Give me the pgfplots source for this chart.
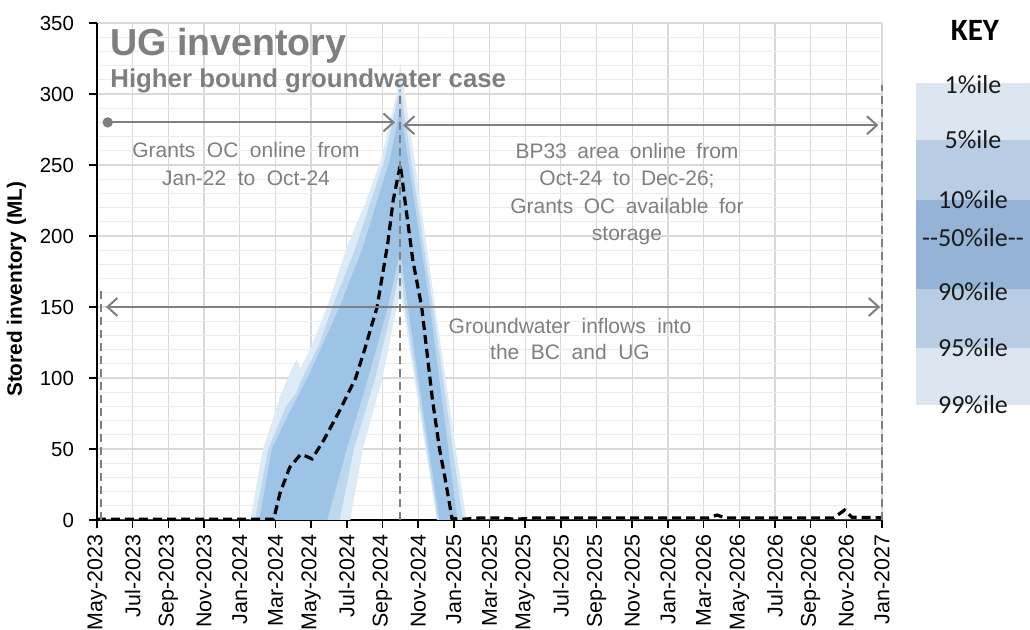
\documentclass[border=0pt]{standalone}
\usepackage{fontspec}
\setmainfont{Liberation Sans}
\newfontfamily\keyfont{Carlito}
\usepackage{pgfplots}
\pgfplotsset{compat=1.18}
\usepgfplotslibrary{fillbetween}
\usetikzlibrary{arrows.meta}

\definecolor{bandL}{RGB}{221,235,247}
\definecolor{bandM}{RGB}{189,215,238}
\definecolor{bandD}{RGB}{157,195,230}
\definecolor{keyL}{RGB}{220,230,241}
\definecolor{keyM}{RGB}{184,204,228}
\definecolor{keyD}{RGB}{149,179,215}
\definecolor{txtgray}{RGB}{127,127,127}
\definecolor{gridmaj}{RGB}{217,217,217}
\definecolor{gridmin}{RGB}{236,236,236}
\newcommand\widesp[1]{\spaceskip=#1em\relax}

\begin{document}
\begin{tikzpicture}
\begin{axis}[
  at={(0,0)}, anchor=south west,
  scale only axis, width=392.5pt, height=248.5pt,
  xmin=0, xmax=44, ymin=0, ymax=350,
  clip=false,
  axis x line*=bottom, axis y line*=left,
  xtick={0,2,...,44},
  xticklabels={May-2023,Jul-2023,Sep-2023,Nov-2023,Jan-2024,Mar-2024,May-2024,Jul-2024,Sep-2024,Nov-2024,Jan-2025,Mar-2025,May-2025,Jul-2025,Sep-2025,Nov-2025,Jan-2026,Mar-2026,May-2026,Jul-2026,Sep-2026,Nov-2026,Jan-2027},
  xticklabel style={rotate=90, anchor=east, font=\fontsize{10.7}{12}\selectfont},
  ytick={0,50,...,350}, minor ytick={10,20,...,340},
  yticklabel style={font=\fontsize{10.2}{12}\selectfont, xshift=-4pt},
  tick align=outside, major tick length=4pt, minor tick length=0pt,
  xmajorgrids, ymajorgrids, yminorgrids,
  major grid style={color=gridmaj, line width=0.6pt},
  minor grid style={color=gridmin, line width=0.6pt},
  axis line style={black, line width=0.75pt},
  tick style={black, line width=0.75pt},
  ylabel={Stored inventory (ML)},
  ylabel style={font=\fontsize{10.4}{12}\bfseries\selectfont, at={(ticklabel cs:0.464)}},
  /pgf/number format/assume math mode=true,
]
% percentile envelopes (x = months after May-2023)
\addplot[name path=p99, draw=none] coordinates {
 (0,0) (8.6,0) (9.3,50) (10.3,88) (10.9,106) (11.2,113) (11.4,107) (12.0,122)
 (12.9,150) (14.0,192) (15.0,222) (15.9,253) (16.8,300) (17.0,322)
 (18.0,236) (19.0,146) (20.0,60) (20.7,0) (44,0)};
\addplot[name path=p95, draw=none] coordinates {
 (0,0) (8.85,0) (9.6,50) (10.6,80) (11.2,90) (11.5,100) (12.4,122) (13.2,150)
 (14.5,192) (16.1,253) (16.9,300) (17.0,305)
 (18.0,220) (18.83,150) (20.5,0) (44,0)};
\addplot[name path=p90, draw=none] coordinates {
 (0,0) (9.1,0) (9.8,50) (10.8,76) (11.8,100) (13.6,150) (14.9,192)
 (16.4,253) (17.0,290) (18.67,150) (20.2,0) (44,0)};
\addplot[name path=p10, draw=none] coordinates {
 (0,0) (12.9,0) (14.0,50) (15.2,100) (16.3,150) (17.0,190)
 (17.43,150) (18.3,75) (19.2,0) (44,0)};
\addplot[name path=p5, draw=none] coordinates {
 (0,0) (13.6,0) (14.4,50) (15.6,100) (16.55,150) (17.0,178)
 (17.27,150) (19.1,0) (44,0)};
\addplot[name path=p1, draw=none] coordinates {
 (0,0) (14.2,0) (14.9,50) (16.0,100) (16.8,150) (17.0,160) (17.15,150) (19.05,0) (44,0)};

\addplot[fill=bandL, draw=none] fill between[of=p99 and p1];
\addplot[fill=bandM, draw=none] fill between[of=p95 and p5];
\addplot[fill=bandD, draw=none] fill between[of=p90 and p10];

% median
\addplot[black, line width=1.6pt, dash pattern=on 4.5pt off 2.5pt] coordinates {
 (0,0.5) (9.9,0.5) (10.26,19) (10.8,37) (11.4,46) (11.7,45) (12.05,43)
 (12.7,56) (13.6,77) (14.5,100) (15.0,120) (15.7,150) (16.3,195) (16.6,225)
 (17.0,250) (17.7,183) (18.2,150) (18.8,85) (19.2,50) (19.5,30) (19.9,1)
 (20.5,0.5) (21.5,1.5) (22.5,1.5) (23.5,0.5) (24.5,1.5) (34.3,1.5) (34.75,3.5)
 (35.2,1.5) (41.3,1.5) (41.9,7) (42.3,2) (44,1.5)};

% period markers
\draw[txtgray, line width=1pt, dash pattern=on 4pt off 2.5pt] (axis cs:0.22,0) -- (axis cs:0.22,163);
\draw[txtgray, line width=1pt, dash pattern=on 4pt off 2.5pt] (axis cs:17,0) -- (axis cs:17,303);
\draw[txtgray, line width=1pt, dash pattern=on 4pt off 2.5pt] (axis cs:44,0) -- (axis cs:44,306);

\fill[txtgray] (axis cs:0.6,280) circle (2.6pt);
\draw[txtgray, line width=1pt, -{Straight Barb[length=5pt,width=9pt]}] (axis cs:0.6,280) -- (axis cs:16.7,280);
\draw[txtgray, line width=1pt, {Straight Barb[length=5pt,width=9pt]}-{Straight Barb[length=5pt,width=9pt]}] (axis cs:17.15,278) -- (axis cs:43.8,278);
\draw[txtgray, line width=1pt, {Straight Barb[length=5pt,width=9pt]}-{Straight Barb[length=5pt,width=9pt]}] (axis cs:0.5,150) -- (axis cs:43.9,150);
\end{axis}

\begin{scope}[x=0.5pt, y=-0.5pt, shift={(-97,-520)}]
\node[anchor=base west, inner sep=0pt, text=txtgray, font=\fontsize{18.8}{22}\bfseries\selectfont] at (110,56) {UG inventory};
\node[anchor=base west, inner sep=0pt, text=txtgray, font=\fontsize{12.9}{15}\bfseries\selectfont] at (110,88) {Higher bound groundwater case};

\begin{scope}[every node/.style={anchor=north, align=center, inner sep=0pt, text=txtgray}]
\node[font=\fontsize{10.5}{14}\selectfont\widesp{0.55}] at (246,142) {Grants OC online from\\Jan-22 to Oct-24};
\node[font=\fontsize{10.5}{13.6}\selectfont\widesp{0.5}] at (627,143) {BP33 area online from\\Oct-24 to Dec-26;\\Grants OC available for\\storage};
\node[font=\fontsize{10.5}{13}\selectfont\widesp{0.55}] at (570,318) {Groundwater inflows into\\the BC and UG};
\end{scope}

% key
\fill[keyL] (916,83) rectangle (1030,140);
\fill[keyM] (916,140) rectangle (1030,200);
\fill[keyD] (916,200) rectangle (1030,289);
\fill[keyM] (916,289) rectangle (1030,348);
\fill[keyL] (916,348) rectangle (1030,405);
\node[font=\keyfont\fontsize{15.5}{17}\bfseries\selectfont] at (975,30) {KEY};
\begin{scope}[every node/.style={font=\keyfont\fontsize{13}{15}\selectfont, text=black!90}]
\node at (973,85) {1\%ile};
\node at (973,140) {5\%ile};
\node at (973,200) {10\%ile};
\node at (973,238) {-{}-50\%ile-{}-};
\node at (973,292) {90\%ile};
\node at (973,348) {95\%ile};
\node at (973,405) {99\%ile};
\end{scope}
\pgfresetboundingbox
\path[use as bounding box] (0,0) rectangle (1030,630);
\end{scope}
\end{tikzpicture}
\end{document}
